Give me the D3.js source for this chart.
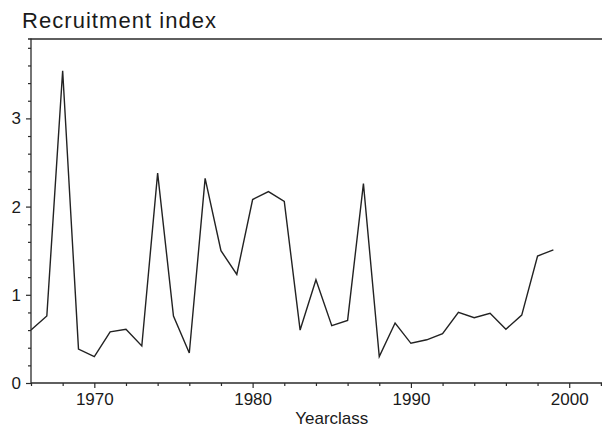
<!DOCTYPE html>
<html>
<head>
<meta charset="utf-8">
<script src="https://cdn.jsdelivr.net/npm/d3@7"></script>
<style>
  html, body { margin: 0; padding: 0; background: #fff; }
  svg { display: block; }
  text { font-family: "Liberation Sans", Arial, Helvetica, sans-serif; fill: #1a1a1a; }
</style>
</head>
<body>
<svg id="chart" width="602" height="428"></svg>
<script>
const years = [1966,1967,1968,1969,1970,1971,1972,1973,1974,1975,1976,1977,1978,1979,1980,1981,1982,1983,1984,1985,1986,1987,1988,1989,1990,1991,1992,1993,1994,1995,1996,1997,1998,1999];
const recruitment = [0.60,0.76,3.54,0.385,0.30,0.58,0.61,0.42,2.38,0.76,0.34,2.32,1.50,1.23,2.08,2.17,2.06,0.60,1.17,0.65,0.71,2.26,0.30,0.68,0.45,0.49,0.56,0.80,0.74,0.79,0.61,0.77,1.44,1.51];
const xMajorTicks = [1970,1980,1990,2000];
const yMajorTicks = [0,1,2,3];
const title = "Recruitment index";
const xTitle = "Yearclass";

(function () {
const svg = d3.select("#chart");
const W = 602;
const mLeft = 31, mTop = 39, mBottom = 383;
const x = d3.scaleLinear().domain([1966, 2004]).range([mLeft, mLeft + 38 * 15.83]);
const y = d3.scaleLinear().domain([0, 3.9]).range([mBottom, mTop]);
const ink = "#2a2a2a";

// title
svg.append("text").attr("x", 22).attr("y", 28)
  .attr("font-size", 22).attr("letter-spacing", 1.05).text(title);

// x axis: minor ticks every 2 years, major at decades
const xMinor = d3.range(1966, 2005, 2).filter(v => !xMajorTicks.includes(v));
const gxMinor = svg.append("g").attr("transform", `translate(0,${mBottom})`)
  .call(d3.axisBottom(x).tickValues(xMinor).tickSize(3).tickFormat(""));
const gx = svg.append("g").attr("transform", `translate(0,${mBottom})`)
  .call(d3.axisBottom(x).tickValues(xMajorTicks).tickSize(5).tickPadding(5).tickFormat(d3.format("d")));
[gxMinor, gx].forEach(g => {
  g.select(".domain").remove();
  g.selectAll(".tick line").attr("stroke", ink).attr("stroke-width", 1.2);
});
gx.selectAll(".tick text").attr("font-size", 17).attr("fill", "#1a1a1a")
  .style("font-family", "'Liberation Sans', Arial, sans-serif");
svg.append("line").attr("x1", mLeft).attr("x2", W).attr("y1", mBottom).attr("y2", mBottom)
  .attr("stroke", ink).attr("stroke-width", 1.3);

// y axis
const yMinor = d3.range(0.2, 3.81, 0.2).filter(v => Math.abs(v - Math.round(v)) > 1e-6);
const gyMinor = svg.append("g").attr("transform", `translate(${mLeft},0)`)
  .call(d3.axisLeft(y).tickValues(yMinor).tickSize(3).tickFormat(""));
const gy = svg.append("g").attr("transform", `translate(${mLeft},0)`)
  .call(d3.axisLeft(y).tickValues(yMajorTicks).tickSize(5).tickPadding(5).tickFormat(d3.format("d")));
[gyMinor, gy].forEach(g => {
  g.select(".domain").remove();
  g.selectAll(".tick line").attr("stroke", ink).attr("stroke-width", 1.2);
});
gy.selectAll(".tick text").attr("font-size", 17).attr("fill", "#1a1a1a")
  .style("font-family", "'Liberation Sans', Arial, sans-serif");
svg.append("line").attr("x1", mLeft).attr("x2", mLeft).attr("y1", mTop - 0.5).attr("y2", mBottom + 0.5)
  .attr("stroke", ink).attr("stroke-width", 1.3);

// top frame line
svg.append("line").attr("x1", mLeft - 3).attr("x2", W).attr("y1", mTop).attr("y2", mTop)
  .attr("stroke", ink).attr("stroke-width", 1.3);

// x title
svg.append("text").attr("x", x(1985)).attr("y", 424).attr("text-anchor", "middle")
  .attr("font-size", 17).text(xTitle);

// data line
const data = years.map((yr, i) => ({yr, v: recruitment[i]}));
svg.append("path").datum(data)
  .attr("fill", "none").attr("stroke", "#222").attr("stroke-width", 1.4)
  .attr("stroke-linejoin", "miter")
  .attr("d", d3.line().x(d => x(d.yr)).y(d => y(d.v)));
})();
</script>
</body>
</html>
